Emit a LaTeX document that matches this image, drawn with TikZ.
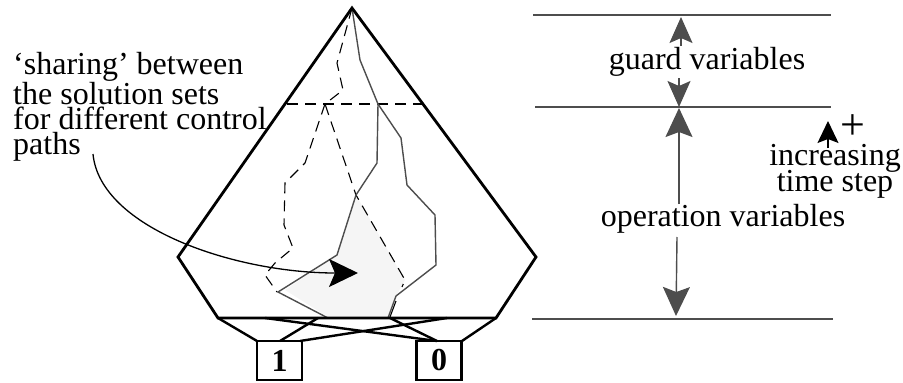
\documentclass[tikz,border=0pt]{standalone}
\usepackage{fontspec}
\setmainfont{Liberation Serif}
\usetikzlibrary{arrows.meta,positioning,calc}
\definecolor{slate}{HTML}{4D4D4D}
\definecolor{sharefill}{HTML}{F5F5F5}
\tikzset{
  outline/.style={draw=black, line width=2.8pt, line join=miter},
  wire/.style={draw=black, line width=2.4pt},
  solpath/.style={draw=slate, line width=1.4pt},
  ctlpath/.style={draw=black, line width=1.1pt, dash pattern=on 11pt off 7pt},
  level/.style={draw=slate, line width=1.4pt},
  dimflow/.style={slate, line width=1.4pt, -{Stealth[length=26pt, width=23pt, inset=5pt]}},
  lab/.style={text=black, font=\fontsize{32}{25}\selectfont, inner sep=0pt},
  bitbox/.style={draw=black, line width=2.4pt, minimum width=45pt, minimum height=39pt,
    inner sep=0pt, font=\bfseries\fontsize{32}{32}\selectfont},
}
\begin{document}
\begin{tikzpicture}[x=1pt,y=-1pt]
  \useasboundingbox (0,0) rectangle (903,383);

  % shared region
  \fill[sharefill] (356,195) -- (337,255) -- (285,290) -- (328,317) -- (388,317) -- (396,296) -- (405,280) -- cycle;

  % control paths
  \draw[ctlpath] (352,8) -- (337,63) -- (343,90) -- (325,104) -- (356,195) -- (405,280) -- (402,287);
  \draw[ctlpath] (325,104) -- (305,163) -- (285,183) -- (284,225) -- (293,248) -- (275,263) -- (265,275) -- (277,292);
  \draw[ctlpath, line width=1.8pt] (287,104) -- (422,104);

  % solution paths
  \draw[solpath] (352,8) -- (360,60) -- (378,104) -- (401,138) -- (407,185) -- (435,215) -- (436,265) -- (396,296) -- (388,318);
  \draw[solpath] (378,104) -- (377,163) -- (356,195) -- (337,255) -- (278,292) -- (328,318);
  \draw[black, line width=1.1pt] (396,301) -- (390,317);

  % outer shape
  \draw[outline] (352,8) -- (536,257) -- (496,318) -- (218,318) -- (178,257) -- cycle;

  % output boxes
  \node[bitbox] (one) at (279.5,360.5) {1};
  \node[bitbox] (zero) at (439,360.5) {0};
  \foreach \name/\px/\bx in {a/218/257, b/265/437, c/318/280, d/447/300, e/390/437, f/496/462}{
    \coordinate (top\name) at (\px,318);
    \coordinate (bot\name) at (\bx,341);
    \draw[wire] (top\name) -- (bot\name);
  }

  % levels on the right
  \coordinate (lvlA) at (533,15);
  \coordinate (lvlAe) at (831,15);
  \coordinate (lvlB) at (535,107);
  \coordinate (lvlBe) at (831,107);
  \coordinate (lvlC) at (532,319);
  \coordinate (lvlCe) at (833,319);
  \draw[level] (lvlA) -- (lvlAe);
  \draw[level] (lvlB) -- (lvlBe);
  \draw[level] (lvlC) -- (lvlCe);

  \node[lab] (guard) at (707,62) {guard variables};
  \node[lab] (oper) at (723,219) {operation variables};
  \node[lab] (incr) at (835,158) {increasing};
  \node[lab] (tstep) at (835,184) {time step};
  \node[lab, font=\fontsize{44}{44}\selectfont] (plus) at (853,127) {+};
  \node[lab, anchor=north west, align=left] (share) at (13,52) {‘sharing’ between\\the solution sets\\for different control\\paths};

  % dimension arrows
  \coordinate (gA) at (681,46);
  \coordinate (gAt) at (681,17);
  \coordinate (gB) at (679,78);
  \coordinate (gBt) at (679,107);
  \coordinate (oA) at (679,204);
  \coordinate (oAt) at (679,108);
  \coordinate (oB) at (677,237);
  \coordinate (oBt) at (676,316);
  \coordinate (iA) at (828,148);
  \coordinate (iAt) at (828,121);
  \draw[dimflow] (gA) -- (gAt);
  \draw[dimflow] (gB) -- (gBt);
  \draw[dimflow, -{Stealth[length=29pt, width=27pt, inset=5pt]}] (oA) -- (oAt);
  \draw[dimflow, -{Stealth[length=29pt, width=27pt, inset=5pt]}] (oB) -- (oBt);
  \draw[black, line width=1.2pt, -{Stealth[length=22pt, width=21pt, inset=4pt]}] (iA) -- (iAt);

  % arrow from the sharing note
  \coordinate (noteA) at (93,154);
  \coordinate (noteB) at (358,273);
  \draw[black, line width=1.3pt, -{Stealth[length=29pt, width=28pt, inset=6pt]}] (noteA) .. controls (100,228) and (235,273) .. (noteB);
\end{tikzpicture}
\end{document}
